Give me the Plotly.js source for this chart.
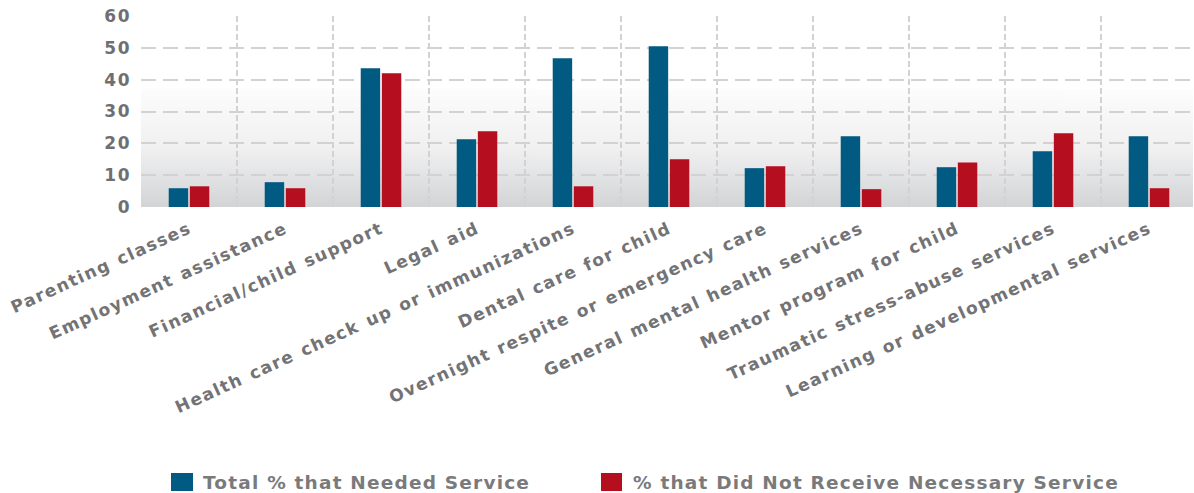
<!DOCTYPE html>
<html>
<head>
<meta charset="utf-8">
<script src="https://cdn.plot.ly/plotly-3.0.1.min.js"></script>
<style>
  html, body { margin: 0; padding: 0; background: #ffffff; }
  #chart { width: 1194px; height: 493px; }
  #chart .xtick text { letter-spacing: 1.5px; word-spacing: 1.5px; }
  #chart .ytick text { letter-spacing: 1.5px; }
  .annotation-text { letter-spacing: 1.2px; }
</style>
</head>
<body>
<div id="chart"></div>
<script>
// ---- Data ----
var categories = [
  "Parenting classes",
  "Employment assistance",
  "Financial/child support",
  "Legal aid",
  "Health care check up or immunizations",
  "Dental care for child",
  "Overnight respite or emergency care",
  "General mental health services",
  "Mentor program for child",
  "Traumatic stress-abuse services",
  "Learning or developmental services"
];
var seriesNames = ["Total % that Needed Service", "% that Did Not Receive Necessary Service"];
var totalNeeded = [5.9, 7.8, 43.6, 21.3, 46.7, 50.5, 12.2, 22.2, 12.5, 17.5, 22.2];
var notReceived = [6.5, 5.9, 42.0, 23.8, 6.5, 15.0, 12.8, 5.6, 14.0, 23.2, 5.9];
var yTicks = [0, 10, 20, 30, 40, 50, 60];
var seriesColors = ['#005a82', '#b50e1e'];

// ---- Geometry (pixels) ----
var W = 1194, H = 493;
var M = { l: 141, r: 1, t: 16, b: 286 };
var plotW = W - M.l - M.r, plotH = H - M.t - M.b;
var catStep = 96; // pixel width of one category slot
function px2x(px) { return (px - M.l) / plotW; }
function px2y(py) { return (H - M.b - py) / plotH; }

// ---- Background gradient for plot area ----
function gradientURL() {
  var c = document.createElement('canvas');
  c.width = 4; c.height = 400;
  var g = c.getContext('2d');
  var grd = g.createLinearGradient(0, 0, 0, 400);
  grd.addColorStop(0, 'rgba(255,255,255,1)');
  grd.addColorStop(0.38, 'rgba(255,255,255,1)');
  grd.addColorStop(0.39, 'rgba(252,252,252,1)');
  grd.addColorStop(0.7, 'rgba(240,240,241,1)');
  grd.addColorStop(1, 'rgba(211,212,214,1)');
  g.fillStyle = grd;
  g.fillRect(0, 0, 4, 400);
  return c.toDataURL('image/png');
}

var traces = seriesNames.map(function (name, i) {
  return {
    type: 'bar', name: name, x: categories, y: i === 0 ? totalNeeded : notReceived,
    marker: { color: seriesColors[i] }, showlegend: false
  };
});

// ---- Legend drawn as shapes + text ----
var legendItems = [
  { sq: [171, 193], text: 202 },
  { sq: [601, 622], text: 632 }
];
var legendY = [473, 491];
var shapes = legendItems.map(function (it, i) {
  return {
    type: 'rect', xref: 'paper', yref: 'paper',
    x0: px2x(it.sq[0]), x1: px2x(it.sq[1]),
    y0: px2y(legendY[1]), y1: px2y(legendY[0]),
    fillcolor: seriesColors[i], line: { width: 0 }
  };
});
var annotations = legendItems.map(function (it, i) {
  return {
    xref: 'paper', yref: 'paper',
    x: px2x(it.text), y: px2y(482),
    xanchor: 'left', yanchor: 'middle',
    borderpad: 0,
    text: seriesNames[i], showarrow: false,
    font: { family: 'DejaVu Sans', size: 18.5, color: '#7a7a7d', weight: 'bold' }
  };
});

var layout = {
  width: W, height: H,
  margin: M,
  paper_bgcolor: '#ffffff',
  plot_bgcolor: 'rgba(0,0,0,0)',
  barmode: 'group',
  bargap: 0.56,
  bargroupgap: 0.08,
  showlegend: false,
  xaxis: {
    type: 'category',
    range: [-0.5, -0.5 + plotW / catStep],
    tickangle: -24.5,
    tickfont: { family: 'DejaVu Sans', size: 17, color: '#737376', weight: 'bold' },
    tickson: 'boundaries',
    ticks: '',
    ticklabelstandoff: 8,
    showgrid: true,
    gridcolor: '#d2d2d2',
    gridwidth: 2,
    griddash: '6px,3px',
    showline: false,
    zeroline: false,
    fixedrange: true
  },
  yaxis: {
    range: [0, 60],
    tickvals: yTicks,
    ticktext: yTicks.map(String),
    tickfont: { family: 'DejaVu Sans', size: 17, color: '#6f6f72', weight: 'bold' },
    ticks: '',
    ticklabelstandoff: 9,
    showgrid: true,
    gridcolor: '#d2d2d2',
    gridwidth: 2,
    griddash: '15px,7px',
    zeroline: false,
    showline: false,
    fixedrange: true
  },
  shapes: shapes,
  annotations: annotations,
  images: [{
    source: gradientURL(),
    xref: 'paper', yref: 'paper',
    x: 0, y: 1, sizex: 1, sizey: 1,
    xanchor: 'left', yanchor: 'top',
    sizing: 'stretch',
    layer: 'below'
  }]
};

Plotly.newPlot('chart', traces, layout, { displayModeBar: false, staticPlot: true });
</script>
</body>
</html>
